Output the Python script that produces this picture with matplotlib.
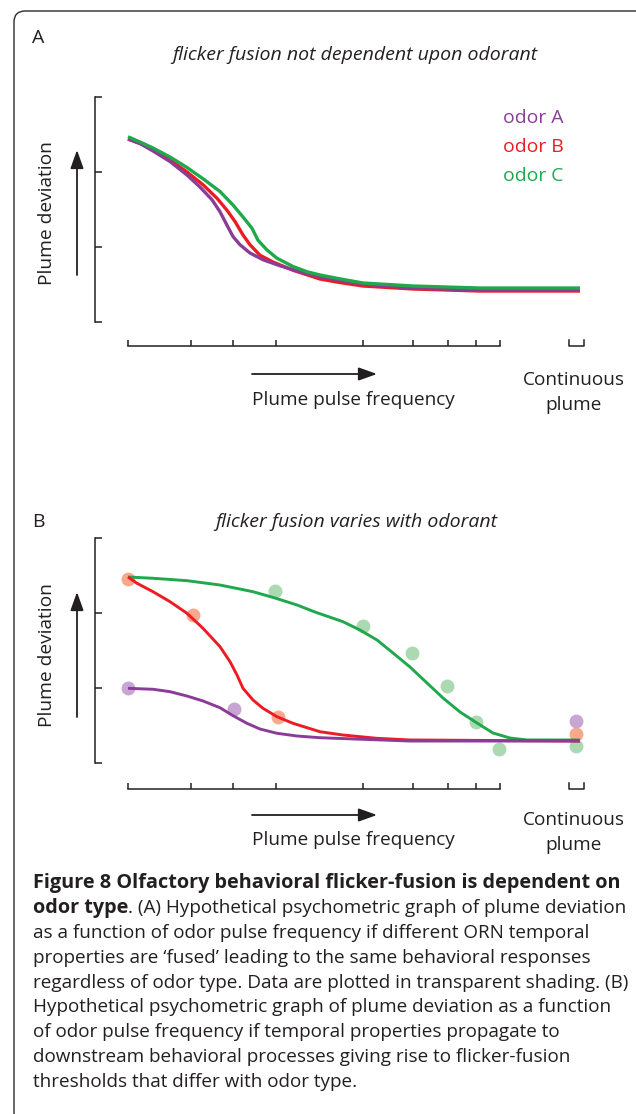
import matplotlib
matplotlib.use('Agg')
import matplotlib.pyplot as plt
from matplotlib.patches import FancyBboxPatch

W, H = 636, 1114

# x positions of the frequency ticks and the "continuous" bracket
freq_ticks = [0, 63, 105, 148, 235, 285, 320, 348, 372]
cont_bracket = [441, 456]
dev_ticks = [0, 1, 2, 3]

# panel A: model curves
a_green_x = [0, 12, 25, 42, 59, 75, 92, 105, 115, 124, 130, 139, 149, 165, 179, 192, 210, 235, 285, 352, 452]
a_green_y = [2.47, 2.40, 2.32, 2.20, 2.06, 1.91, 1.74, 1.56, 1.40, 1.25, 1.09, 0.96, 0.85, 0.74,
             0.67, 0.627, 0.58, 0.52, 0.48, 0.453, 0.453]
a_red_x = [0, 12, 25, 42, 59, 75, 89, 99, 107, 115, 122, 132, 145, 165, 192, 210, 235, 285, 352, 452]
a_red_y = [2.44, 2.38, 2.31, 2.16, 2.00, 1.83, 1.65, 1.49, 1.34, 1.16, 1.03, 0.89, 0.80, 0.69,
           0.573, 0.53, 0.48, 0.44, 0.413, 0.413]
a_purple_x = [0, 12, 25, 42, 59, 72, 84, 92, 99, 105, 112, 122, 135, 152, 172, 192, 210, 235, 285, 352, 452]
a_purple_y = [2.44, 2.38, 2.28, 2.14, 1.96, 1.80, 1.63, 1.47, 1.29, 1.14, 1.03, 0.92, 0.83, 0.75,
              0.67, 0.604, 0.56, 0.507, 0.453, 0.427, 0.427]

# panel B: model curves
b_green_x = [0, 25, 59, 92, 125, 147, 169, 187, 215, 232, 249, 265, 282, 299, 315, 332, 349, 365,
             382, 399, 452]
b_green_y = [2.48, 2.463, 2.431, 2.373, 2.284, 2.20, 2.107, 2.013, 1.884, 1.773, 1.64, 1.467, 1.28,
             1.067, 0.867, 0.68, 0.533, 0.40, 0.333, 0.307, 0.307]
b_red_x = [0, 9, 25, 42, 59, 75, 92, 102, 109, 115, 125, 135, 149, 165, 192, 215, 249, 282, 452]
b_red_y = [2.48, 2.396, 2.284, 2.151, 1.996, 1.796, 1.551, 1.351, 1.173, 0.996, 0.84, 0.729, 0.617,
           0.529, 0.417, 0.373, 0.329, 0.307, 0.293]
b_purple_x = [0, 25, 42, 59, 75, 92, 105, 119, 132, 149, 169, 192, 282, 452]
b_purple_y = [0.996, 0.983, 0.951, 0.893, 0.827, 0.737, 0.631, 0.529, 0.453, 0.396, 0.36, 0.337,
              0.293, 0.293]

# panel B: data points
b_red_pts_x = [0, 65, 150, 448]
b_red_pts_y = [2.45, 1.97, 0.61, 0.39]
b_green_pts_x = [147, 235, 284, 319, 348, 371, 448]
b_green_pts_y = [2.29, 1.83, 1.47, 1.03, 0.55, 0.19, 0.23]
b_purple_pts_x = [0, 106, 448]
b_purple_pts_y = [1.00, 0.72, 0.56]

odor_labels = ['odor A', 'odor B', 'odor C']

ink = '#231f20'
purple = '#8b3c97'
red = '#ed1c24'
green = '#1fa84c'
purple_dot = '#c7a6d3'
red_dot = '#f8a98c'
green_dot = '#aad9b2'

plt.rcParams['font.family'] = ['Open Sans', 'DejaVu Sans']

fig = plt.figure(figsize=(W / 100, H / 100), dpi=100)
renderer = fig.canvas.get_renderer()


def fpos(left, top, right, bottom):
    return [left / W, 1 - bottom / H, (right - left) / W, (bottom - top) / H]


def ftext(px, py, s, **kw):
    kw.setdefault('color', ink)
    return fig.text(px / W, 1 - py / H, s, **kw)


def fit(t, size_px, vertical=False):
    ext = t.get_window_extent(renderer)
    cur = ext.height if vertical else ext.width
    t.set_fontsize(t.get_fontsize() * size_px / cur)
    return t


def arrow(ax, x0, y0, x1, y1):
    ax.annotate('', xy=(x1, H - y1), xytext=(x0, H - y0),
                xycoords='figure pixels', textcoords='figure pixels',
                arrowprops=dict(arrowstyle='-|>,head_length=0.7,head_width=0.25',
                                mutation_scale=16, lw=1.3, color=ink,
                                shrinkA=0, shrinkB=0))


def style_axes(ax):
    for s in ['top', 'right']:
        ax.spines[s].set_visible(False)
    for s in ['left', 'bottom']:
        ax.spines[s].set_linewidth(1.1)
        ax.spines[s].set_color(ink)
    ax.spines['left'].set_bounds(dev_ticks[0], dev_ticks[-1])
    ax.spines['bottom'].set_bounds(freq_ticks[0], freq_ticks[-1])
    ax.set_yticks(dev_ticks)
    ax.set_xticks(freq_ticks)
    ax.tick_params(direction='in', width=1.1, color=ink,
                   labelleft=False, labelbottom=False)
    ax.tick_params(axis='y', length=5)
    ax.tick_params(axis='x', length=4.3)
    ax.patch.set_visible(False)
    tick_frac = 6 / ax.get_window_extent(renderer).height
    ax.plot([cont_bracket[0], cont_bracket[0], cont_bracket[1], cont_bracket[1]],
            [tick_frac, 0, 0, tick_frac], transform=ax.get_xaxis_transform(),
            clip_on=False, lw=1.1, color=ink)


# ---- panel A
axA = fig.add_axes(fpos(95, 90, 600, 346))
axA.set_xlim(-33, 472)
axA.set_ylim(-24 / 75, 232 / 75)
style_axes(axA)
axA.plot(a_red_x, a_red_y, color=red, lw=2.4, solid_capstyle='butt')
axA.plot(a_purple_x, a_purple_y, color=purple, lw=2.4, solid_capstyle='butt')
axA.plot(a_green_x, a_green_y, color=green, lw=2.4, solid_capstyle='butt')

# ---- panel B
axB = fig.add_axes(fpos(95, 531, 600, 789))
axB.set_xlim(-33, 472)
axB.set_ylim(-26 / 75, 232 / 75)
style_axes(axB)
axB.plot(b_red_pts_x, b_red_pts_y, 'o', color=red_dot, ms=10, mew=0, clip_on=False)
axB.plot(b_green_pts_x, b_green_pts_y, 'o', color=green_dot, ms=10, mew=0, clip_on=False)
axB.plot(b_purple_pts_x, b_purple_pts_y, 'o', color=purple_dot, ms=10, mew=0, clip_on=False)
axB.plot(b_green_x, b_green_y, color=green, lw=2.1, solid_capstyle='butt')
axB.plot(b_red_x, b_red_y, color=red, lw=2.1, solid_capstyle='butt')
axB.plot(b_purple_x, b_purple_y, color=purple, lw=2.1, solid_capstyle='butt')

# ---- panel letters and titles
ftext(38, 38, 'A', fontsize=14, ha='center', va='center')
ftext(38, 522, 'B', fontsize=14, ha='center', va='center')
tA = fit(ftext(355, 55, 'flicker fusion not dependent upon odorant', fontsize=12,
               style='italic', ha='center', va='center'), 364)
ftext(356, 522, 'flicker fusion varies with odorant', fontsize=tA.get_fontsize(),
      style='italic', ha='center', va='center')

# ---- axis labels and arrows
for ax, ylab_y, xlab_y, cont_y, harrow_y, varrow in [(axA, 213, 400, 380, 374, (275, 150)),
                                                     (axB, 655, 840, 820, 815, (717, 592))]:
    fit(ftext(47, ylab_y, 'Plume deviation', fontsize=12, rotation=90,
              ha='center', va='center'), 143, vertical=True)
    fit(ftext(353, xlab_y, 'Plume pulse frequency', fontsize=12, ha='center', va='center'), 203)
    c = fit(ftext(574, cont_y, 'Continuous', fontsize=12, ha='center', va='center'), 102)
    ftext(574, cont_y + 25, 'plume', fontsize=c.get_fontsize(), ha='center', va='center')
    arrow(ax, 252, harrow_y, 377, harrow_y)
    arrow(ax, 77, varrow[0], 77, varrow[1])

# odor legend text in panel A
for i, (lab, col) in enumerate(zip(odor_labels, [purple, red, green])):
    fit(ftext(503, 118 + 29 * i, lab, fontsize=12, color=col, ha='left', va='center'), 60)

# ---- caption
cap_y0, cap_dy = 883, 24.9
bold_line = 'Figure 8 Olfactory behavioral flicker-fusion is dependent on'
rest = ['. (A) Hypothetical psychometric graph of plume deviation',
        'as a function of odor pulse frequency if different ORN temporal',
        'properties are \u2018fused\u2019 leading to the same behavioral responses',
        'regardless of odor type. Data are plotted in transparent shading. (B)',
        'Hypothetical psychometric graph of plume deviation as a function',
        'of odor pulse frequency if temporal properties propagate to',
        'downstream behavioral processes giving rise to flicker-fusion',
        'thresholds that differ with odor type.']
b1 = fit(ftext(33, cap_y0, bold_line, fontsize=12, weight='bold', va='center'), 590)
ref = fit(ftext(33, cap_y0 + 4 * cap_dy, rest[3], fontsize=12, va='center'), 592)
fs = ref.get_fontsize()
ot = ftext(33, cap_y0 + cap_dy, 'odor type', fontsize=b1.get_fontsize(), weight='bold', va='center')
ow = ot.get_window_extent(renderer).width
ftext(33 + ow, cap_y0 + cap_dy, rest[0], fontsize=fs, va='center')
for i, line in enumerate(rest[1:], start=2):
    if i == 4:
        continue
    ftext(33, cap_y0 + i * cap_dy, line, fontsize=fs, va='center')

# ---- rounded frame (right and bottom edges run off the image)
frame = FancyBboxPatch((0.14, -0.10), 6.40, 11.13, boxstyle='round,pad=0,rounding_size=0.11',
                       transform=fig.dpi_scale_trans, fill=False, lw=1.0, ec='#2a2a2a')
fig.add_artist(frame)

fig.savefig('out.png', dpi=100)
